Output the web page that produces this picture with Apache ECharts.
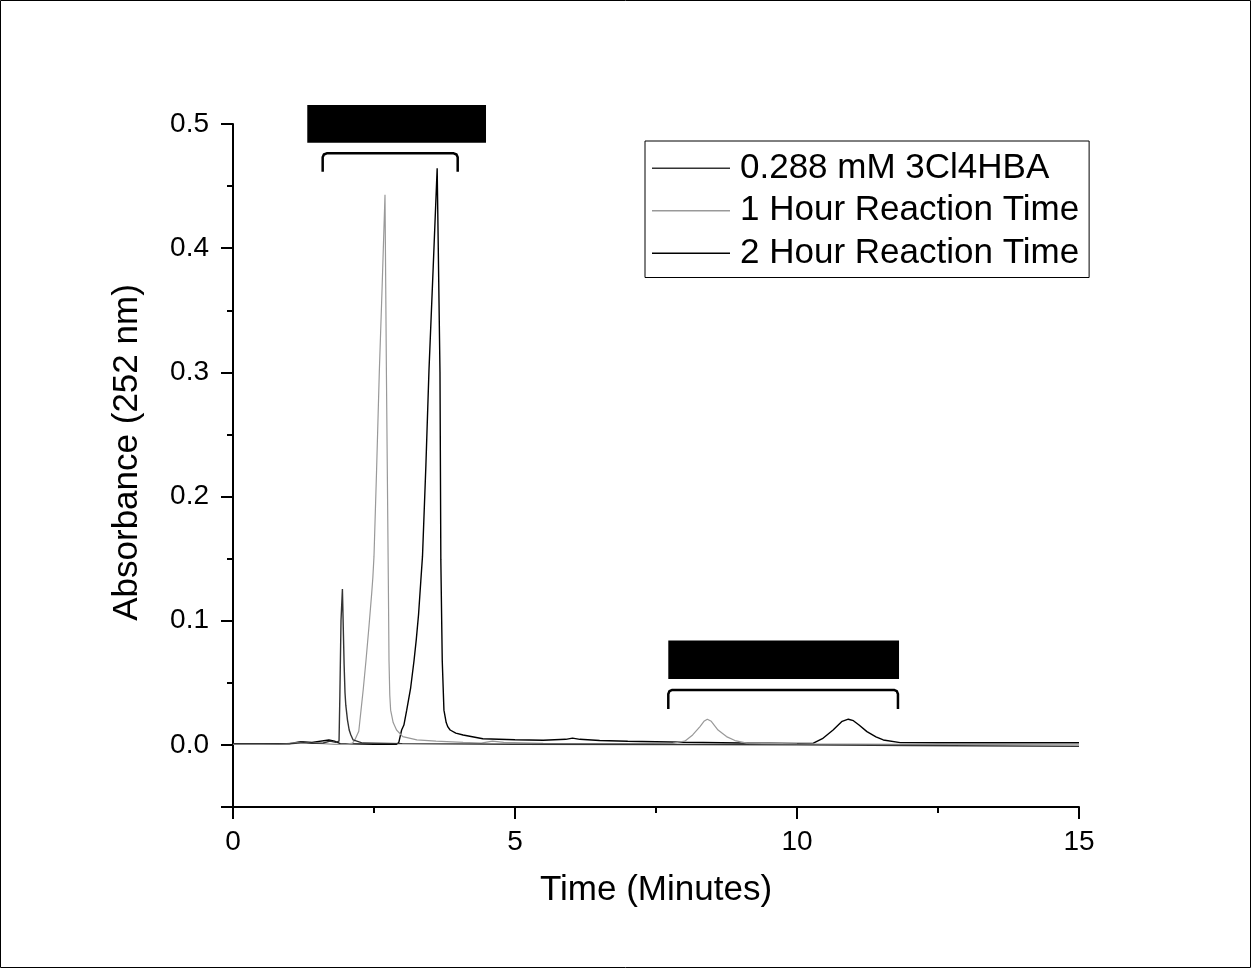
<!DOCTYPE html>
<html>
<head>
<meta charset="utf-8">
<script src="https://cdn.jsdelivr.net/npm/echarts@6/dist/echarts.min.js"></script>
<style>
html,body{margin:0;padding:0;background:#fff;}
#chart{width:1251px;height:968px;}
</style>
</head>
<body>
<div id="chart"></div>
<script>
// ---- data (time in minutes, absorbance at 252 nm) ----
const seriesNames = ['0.288 mM 3Cl4HBA', '1 Hour Reaction Time', '2 Hour Reaction Time'];

const std3Cl4HBA = [
  [0,0.001],[0.5,0.001],[1.0,0.0008],[1.25,0.0018],[1.4,0.0012],[1.6,0.0015],[1.72,0.003],[1.82,0.002],[1.88,0.003],
  [1.895,0.04],[1.915,0.10],[1.94,0.1255],[1.955,0.095],[1.97,0.065],[1.986,0.042],[2.0,0.032],[2.03,0.02],
  [2.06,0.012],[2.09,0.008],[2.13,0.004],[2.16,0.0027],[2.3,0.0015],[3,0.001],[5,0.0005],[8,0.0003],
  [10,0.0],[12,-0.0005],[15,-0.0012]
];

const hour1 = [
  [0,0.0005],[0.8,0.0005],[1.2,0.002],[1.35,0.0015],[1.6,0.001],[1.8,0.0005],[2.0,0.0005],[2.12,0.0015],
  [2.16,0.004],[2.2,0.008],[2.23,0.011],[2.27,0.028],[2.31,0.045],[2.358,0.068],[2.41,0.095],[2.459,0.122],
  [2.48,0.135],[2.5,0.152],[2.545,0.22],[2.594,0.30],[2.645,0.37],[2.695,0.443],[2.72,0.30],[2.754,0.133],
  [2.766,0.068],[2.78,0.04],[2.795,0.028],[2.84,0.018],[2.9,0.012],[3.01,0.0067],[3.26,0.004],[3.6,0.003],
  [4.08,0.002],[4.4,0.0015],[4.6,0.003],[4.8,0.002],[5.5,0.0012],[7.0,0.001],[7.8,0.0015],[8.01,0.003],
  [8.15,0.008],[8.28,0.0148],[8.35,0.019],[8.41,0.0207],[8.48,0.019],[8.6,0.012],[8.75,0.0067],[8.9,0.0035],
  [9.11,0.0015],[10,0.0008],[12,0.0004],[15,0.0]
];

const hour2 = [
  [0,0.001],[1.0,0.001],[1.2,0.0025],[1.4,0.002],[1.7,0.004],[1.8,0.003],[1.9,0.001],[2.5,0.0005],[2.9,0.0005],
  [2.94,0.002],[2.97,0.008],[2.99,0.012],[3.03,0.016],[3.08,0.028],[3.15,0.046],[3.21,0.068],[3.25,0.085],
  [3.29,0.105],[3.33,0.132],[3.36,0.152],[3.42,0.225],[3.475,0.302],[3.55,0.385],[3.62,0.4643],[3.67,0.30],
  [3.685,0.149],[3.70,0.10],[3.71,0.068],[3.74,0.028],[3.78,0.018],[3.81,0.0145],[3.85,0.012],[3.95,0.0095],
  [4.08,0.008],[4.43,0.005],[5.0,0.0042],[5.5,0.0038],[5.9,0.0045],[6.02,0.0055],[6.15,0.0045],[6.5,0.0035],
  [7,0.003],[8,0.0022],[9,0.0015],[10,0.0012],[10.29,0.0014],[10.45,0.005],[10.64,0.012],[10.8,0.019],
  [10.91,0.0207],[11.0,0.0195],[11.1,0.016],[11.24,0.0107],[11.4,0.0065],[11.53,0.004],[11.83,0.0018],
  [12.5,0.0017],[15,0.0017]
];

const yMajorTicks = [-0.05, 0, 0.1, 0.2, 0.3, 0.4, 0.5];
const yMinorTicks = [0.05, 0.15, 0.25, 0.35, 0.45];
const yLabels = [0, 0.1, 0.2, 0.3, 0.4, 0.5];

// annotation boxes (redaction bars) [t1, t2, vBottom, vTop] and brackets [t1, t2, vTop, vEnd]
const boxes = [[1.317, 4.486, 0.4849, 0.5153], [7.718, 11.809, 0.0531, 0.0840]];
const brackets = [[1.590, 3.984, 0.4764, 0.4616], [7.718, 11.79, 0.0443, 0.0290]];

// ---- chart ----
const FONT = 'Arial, "Liberation Sans", sans-serif';
const chart = echarts.init(document.getElementById('chart'));
const colors = ['#333333', '#999999', '#000000'];
const datas = [std3Cl4HBA, hour1, hour2];

const option = {
  animation: false,
  backgroundColor: '#fff',
  textStyle: { fontFamily: FONT },
  grid: { left: 233, right: 172, top: 124, bottom: 161, containLabel: false },
  legend: {
    orient: 'vertical',
    left: 645, top: 141,
    padding: [6, 10, 3, 7],
    itemGap: 0,
    icon: 'rect',
    itemWidth: 78, itemHeight: 1.4,
    borderColor: '#000', borderWidth: 1,
    textStyle: { fontSize: 35, lineHeight: 42.5, color: '#000', fontFamily: FONT, padding: [0, 0, 0, 5] },
    data: seriesNames
  },
  xAxis: {
    type: 'value', min: 0, max: 15, interval: 5,
    name: 'Time (Minutes)', nameLocation: 'middle', nameGap: 66,
    nameTextStyle: { fontSize: 35, color: '#000', fontFamily: FONT },
    axisLine: { show: true, onZero: false, lineStyle: { color: '#000', width: 2 } },
    axisTick: { show: true, length: 12, lineStyle: { color: '#000', width: 2 } },
    minorTick: { show: true, splitNumber: 2, length: 6, lineStyle: { color: '#000', width: 2 } },
    axisLabel: { fontSize: 28, color: '#000', margin: 21, fontFamily: FONT },
    splitLine: { show: false }
  },
  yAxis: [{
    type: 'value', min: -0.05, max: 0.5,
    name: 'Absorbance (252 nm)', nameLocation: 'middle', nameGap: 88,
    nameTextStyle: { fontSize: 35, color: '#000', fontFamily: FONT, padding: [0, 0, 0, 26] },
    axisLine: { show: true, onZero: false, lineStyle: { color: '#000', width: 2 } },
    axisTick: { show: true, length: 12, customValues: yMajorTicks, lineStyle: { color: '#000', width: 2 } },
    axisLabel: { fontSize: 28, color: '#000', margin: 24, fontFamily: FONT, customValues: yLabels,
                 formatter: v => Number(v).toFixed(1) },
    splitLine: { show: false }
  }, {
    type: 'value', min: -0.05, max: 0.5, position: 'left', offset: 0,
    axisLine: { show: false },
    axisTick: { show: true, length: 6, customValues: yMinorTicks, lineStyle: { color: '#000', width: 2 } },
    axisLabel: { show: false },
    splitLine: { show: false }
  }],
  series: seriesNames.map((n, i) => ({
    name: n, type: 'line', data: datas[i], yAxisIndex: 0,
    symbol: 'none', smooth: false,
    lineStyle: { color: colors[i], width: i === 1 ? 1.2 : 1.4 },
    itemStyle: { color: colors[i] },
    z: 3 - i
  }))
};
chart.setOption(option);

// annotations in data coordinates -> pixels
const gfx = [{
  type: 'rect', silent: true,
  shape: { x: 0.5, y: 0.5, width: 1250, height: 967 },
  style: { fill: 'none', stroke: '#000', lineWidth: 1 }
}];
boxes.forEach(b => {
  const p1 = chart.convertToPixel({ gridIndex: 0 }, [b[0], b[3]]);
  const p2 = chart.convertToPixel({ gridIndex: 0 }, [b[1], b[2]]);
  gfx.push({ type: 'rect', silent: true, z: 10,
    shape: { x: p1[0], y: p1[1], width: p2[0] - p1[0], height: p2[1] - p1[1] },
    style: { fill: '#000' } });
});
brackets.forEach(b => {
  const a = chart.convertToPixel({ gridIndex: 0 }, [b[0], b[2]]);
  const c = chart.convertToPixel({ gridIndex: 0 }, [b[1], b[3]]);
  const x1 = a[0], x2 = c[0], yt = a[1], yb = c[1], r = 4;
  gfx.push({ type: 'polyline', silent: true, z: 10,
    shape: { points: [[x1, yb], [x1, yt + r], [x1 + 1.2, yt + 1.2], [x1 + r, yt],
                      [x2 - r, yt], [x2 - 1.2, yt + 1.2], [x2, yt + r], [x2, yb]] },
    style: { fill: 'none', stroke: '#000', lineWidth: 2.5, lineJoin: 'round' } });
});
chart.setOption({ graphic: gfx });
</script>
</body>
</html>
